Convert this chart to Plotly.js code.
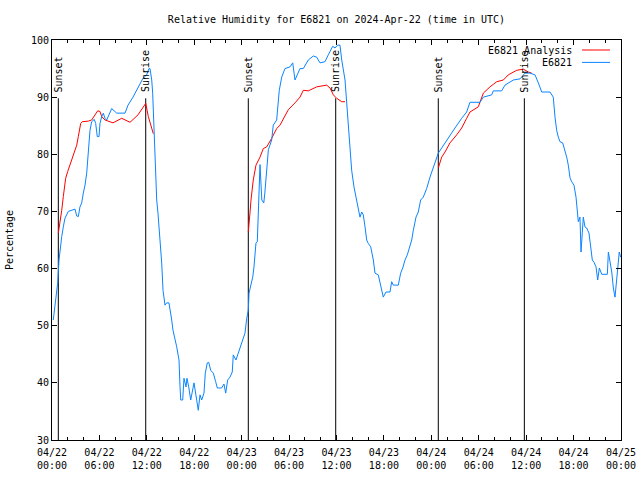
<!DOCTYPE html>
<html>
<head>
<meta charset="utf-8">
<script src="https://cdn.plot.ly/plotly-3.0.1.min.js"></script>
<style>html,body{margin:0;padding:0;background:#fff;}#chart{width:640px;height:480px;}</style>
</head>
<body>
<div id="chart"></div>
<script>
// Hours since 2024-04-22 00:00 UTC
const obsHours = [0.16,0.38,0.59,0.72,0.89,1.01,1.23,1.43,1.64,2.06,2.70,2.91,3.13,3.33,3.54,3.76,3.96,4.18,4.39,4.52,4.68,4.81,5.02,5.35,5.53,5.73,5.95,6.07,6.29,6.49,6.71,6.92,7.55,8.19,9.24,9.62,10.25,11.14,11.51,11.98,12.27,12.40,12.62,12.74,12.91,13.03,13.16,13.25,13.41,13.67,13.88,14.05,14.30,14.51,14.80,15.15,15.31,15.78,16.07,16.20,16.29,16.54,16.70,16.96,17.08,17.30,17.55,17.72,17.97,18.31,18.51,18.73,18.94,19.23,19.40,19.65,19.83,20.08,20.41,20.71,20.92,21.47,21.76,21.98,22.23,22.52,22.81,22.94,23.28,23.57,23.88,24.21,24.42,24.64,24.84,24.93,25.14,25.40,25.56,25.69,25.81,25.98,26.10,26.23,26.32,26.55,26.80,26.93,27.06,27.38,27.80,28.00,28.43,28.76,29.07,29.48,30.12,30.46,30.75,31.38,31.80,32.43,33.06,33.49,33.91,34.54,34.96,35.52,35.81,36.15,36.44,36.66,37.08,37.37,37.71,37.92,38.21,38.56,38.76,38.97,39.19,39.39,39.61,39.82,40.02,40.33,40.66,40.87,41.29,41.59,41.92,42.26,42.77,42.98,43.19,43.82,44.12,44.38,44.67,44.96,45.30,45.52,45.72,46.06,46.35,46.65,46.98,47.41,47.83,48.25,48.59,48.88,49.31,49.73,50.36,50.99,51.84,52.47,52.89,54.16,54.58,55.64,55.84,56.90,57.32,58.37,59.22,59.85,60.48,61.12,61.54,61.97,63.02,63.43,63.65,63.86,64.07,64.28,64.62,64.91,65.13,65.33,65.55,65.76,66.05,66.31,66.47,66.60,66.81,66.94,67.10,67.23,67.44,67.66,67.95,68.17,68.37,68.58,68.84,69.05,69.26,69.56,70.27,70.40,70.61,70.83,71.03,71.24,71.45,71.58,71.78,71.96];
const obsRH = [51,53.3,56.2,57.5,61.5,63.2,65.6,67.3,68.8,70,70.4,70.4,69.2,69.1,70.8,71.5,73.2,74.6,76.7,79,82,84.2,85.7,86.1,85.4,83.1,83.1,85.4,86.6,87.2,86.3,86,88,87.2,87.2,88.6,90,92.5,93.3,93.9,95,95,93,90.7,84.8,79,74.3,72,69.7,65.5,61,56.2,53.6,54,54,51,49.2,46.3,44,39.3,37,37,40.8,39.3,40.8,39.3,37,38.2,40,37,35.2,37.9,37,38.2,41.7,43.5,43.6,42.2,41.7,40.2,39.1,39.1,39.8,38.2,40.5,41,41.9,44.9,44,45.2,46.6,47.8,48.7,51.3,52.7,55.7,56.8,58.5,60.3,63.2,64.5,64.7,69.7,75.5,78.2,72,71.5,73.2,75.5,80.8,82.5,85.1,86,91.2,93.5,95,95.3,96,93,95,95,96.5,97.2,97,96,96.2,97.4,98.9,98.6,99.1,99.1,96.5,93,87.2,80.8,77.2,74.3,72,70.2,69,69.9,69.4,67.3,65,64.4,63.8,61.5,59.2,58.9,56.8,55,55.9,55.9,57.7,57.1,57.1,59.2,60.1,61.5,62.4,63.8,65,66.7,69,69.9,72,72.5,74,76,77.8,79.3,80.2,81.1,82,83.4,84.6,86.3,87.4,89.1,89.1,90,90.4,91.1,91.1,92.1,93,93.2,94.2,94.2,93.9,92.5,90.9,90.9,90,86.5,84.2,83,82.2,82,80.8,79.5,78.1,75.9,75.2,74.6,72.5,69.9,68.2,69,62.9,66.2,69,67.3,67.1,66.2,63.2,61.5,61.1,60.3,58,60.1,59,59,62.9,61.1,59.4,56.6,55,58,60.1,62.9,62];

// Analysis series (null = gap between segments)
const anaHours = [0.80,1.01,1.23,1.43,1.73,1.99,2.28,2.49,2.82,3.13,3.33,3.63,3.83,4.59,5.02,5.44,5.78,6.07,6.29,6.71,7.72,8.82,9.87,10.88,11.86,12.19,12.53,12.82,null,
  24.84,24.97,25.05,25.18,25.30,25.47,25.81,26.32,26.74,27.17,27.80,28.43,28.85,29.48,29.90,30.75,31.38,31.80,32.43,33.49,34.76,35.18,35.60,36.02,36.66,37.08,null,
  48.88,49.31,49.73,50.36,51.21,51.84,52.47,52.89,53.94,54.58,55.42,56.27,57.11,57.74,58.81,59.64,60.27,60.70];
const anaRH = [66.2,68,70.2,72.6,75.8,77,78.1,79,80.5,81.6,83.1,85.4,85.7,85.8,86,87,87.6,87.5,86.6,86,85.5,86.3,85.6,86.9,88.9,86.6,85.1,83.6,null,
  66.4,68,69.7,72,73.8,75.5,78.1,79.5,81,81.3,82.8,84.5,85.1,86.9,87.8,89,90,91.2,91.1,91.8,92.1,91.6,90.4,89.8,89.2,89.2,null,
  77.6,79.5,80.4,82,83.4,84.6,86.3,87.4,88.3,90.7,91.8,92.7,93,93.9,94.7,94.9,94.4,94.2];

const eventHours = [0.80, 11.86, 24.84, 35.90, 48.88, 59.77];
const eventLabels = ["Sunset","Sunrise","Sunset","Sunrise","Sunset","Sunrise"];
const eventTop = 89.8;

const tickHours = [0,6,12,18,24,30,36,42,48,54,60,66,72];
const tickLabels = ["04/22<br>00:00","04/22<br>06:00","04/22<br>12:00","04/22<br>18:00","04/23<br>00:00","04/23<br>06:00","04/23<br>12:00","04/23<br>18:00","04/24<br>00:00","04/24<br>06:00","04/24<br>12:00","04/24<br>18:00","04/25<br>00:00"];

const seriesNames = ["E6821 Analysis", "E6821"];
const seriesColors = ["#ff0000", "#0a84ff"];

const FONT = {family: "DejaVu Sans Mono, monospace", size: 10, color: "#000"};

const traces = [];
// event lines
eventHours.forEach(function(h){
  traces.push({x:[h,h], y:[30,eventTop], mode:"lines", line:{color:"#000", width:1}, showlegend:false, hoverinfo:"skip"});
});
traces.push({x: anaHours, y: anaRH, mode:"lines", name: seriesNames[0], line:{color: seriesColors[0], width:1}, connectgaps:false, showlegend:false});
traces.push({x: obsHours, y: obsRH, mode:"lines", name: seriesNames[1], line:{color: seriesColors[1], width:1}, showlegend:false});

const annotations = eventHours.map(function(h, i){
  return {x: h, y: eventTop, xref:"x", yref:"y", text: eventLabels[i], textangle:-90, showarrow:false,
          xanchor:"center", yanchor:"bottom", yshift:4, font: FONT};
});
// custom gnuplot-style legend (text left, sample right)
const legY = [0.975, 0.944];
seriesNames.forEach(function(n, i){
  annotations.push({x:0.9174, y:legY[i], xref:"paper", yref:"paper", text:n, showarrow:false, xanchor:"right", yanchor:"middle", font: FONT});
});
const shapes = seriesNames.map(function(n, i){
  return {type:"line", xref:"paper", yref:"paper", x0:0.9315, x1:0.9807, y0:legY[i], y1:legY[i], line:{color: seriesColors[i], width:1}};
});

const layout = {
  width: 640, height: 480,
  margin: {l:52, r:19, t:40, b:40, pad:0},
  paper_bgcolor: "#fff", plot_bgcolor: "#fff",
  font: FONT,
  showlegend: false,
  title: {text: "Relative Humidity for E6821 on 2024-Apr-22 (time in UTC)", font: FONT, x: 0.5257, xanchor:"center", y: 0.96, yanchor:"middle"},
  xaxis: {range:[0,72], tickvals: tickHours, ticktext: tickLabels, ticks:"inside", ticklen:5, tickcolor:"#000",
          showline:true, linecolor:"#000", linewidth:1, mirror:"ticks", showgrid:false, zeroline:false,
          minor:{dtick:2, tick0:0, ticks:"inside", ticklen:3, tickcolor:"#000", showgrid:false},
          ticklabelstandoff: 3,
          tickfont: FONT, fixedrange:true},
  yaxis: {range:[30,100], dtick:10, tick0:30, ticks:"inside", ticklen:5, tickcolor:"#000",
          showline:true, linecolor:"#000", linewidth:1, mirror:"ticks", showgrid:false, zeroline:false,
          tickfont: FONT, title:{text:"Percentage", font: FONT, standoff: 15}, fixedrange:true},
  annotations: annotations,
  shapes: shapes
};

Plotly.newPlot("chart", traces, layout, {displayModeBar:false, staticPlot:true});
</script>
</body>
</html>
